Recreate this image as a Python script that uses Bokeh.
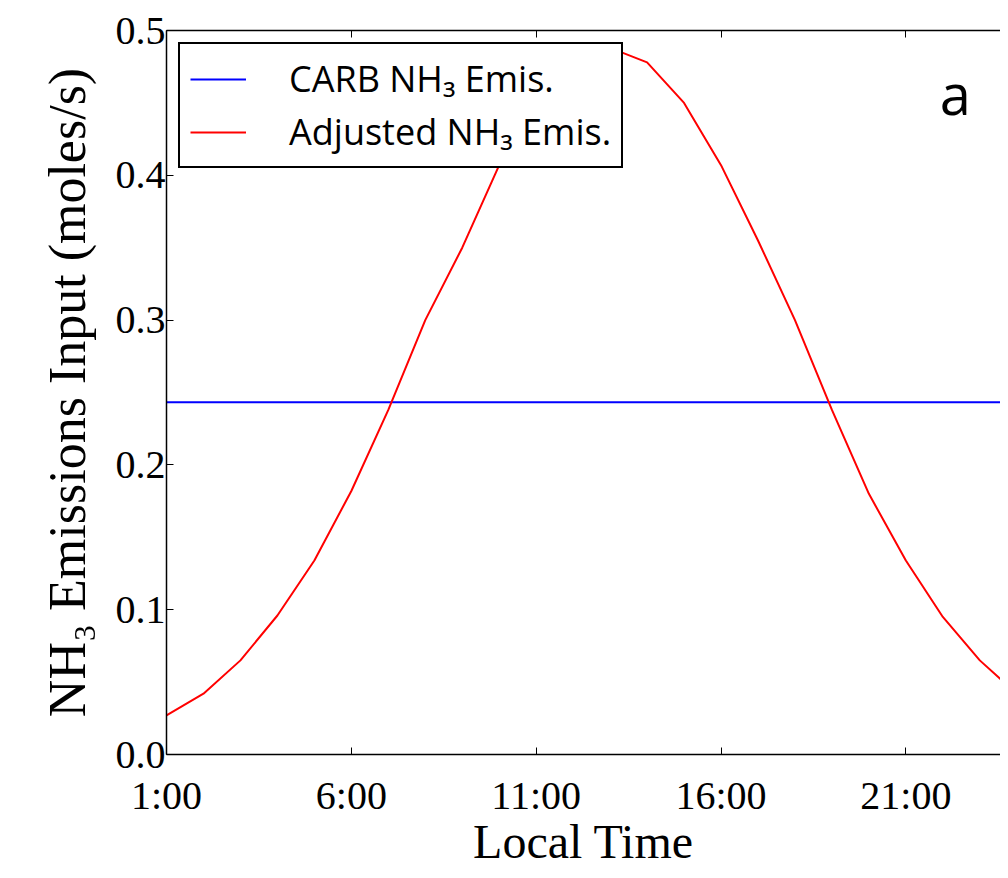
from bokeh.plotting import figure
from bokeh.models import (LinearAxis, FixedTicker, Legend, LegendItem, Label,
                          ColumnDataSource, Range1d)
from bokeh.embed import file_html
from bokeh.resources import INLINE

# ---- data ----
hours = list(range(1, 25))
carb_emis = [0.2433] * 24
adjusted_emis = [0.027, 0.042, 0.065, 0.096, 0.134, 0.182, 0.238, 0.300,
                 0.350, 0.407, 0.450, 0.478, 0.488, 0.478, 0.450, 0.407,
                 0.355, 0.300, 0.238, 0.180, 0.134, 0.095, 0.065, 0.042]
x_tick_values = [1, 6, 11, 16, 21]
x_tick_labels = ["1:00", "6:00", "11:00", "16:00", "21:00"]
y_tick_values = [0.0, 0.1, 0.2, 0.3, 0.4, 0.5]
y_tick_labels = ["0.0", "0.1", "0.2", "0.3", "0.4", "0.5"]
series_names = ["CARB NH\u2083 Emis.", "Adjusted NH\u2083 Emis."]
x_title = "Local Time"
y_title = "NH\u2083 Emissions Input (moles/s)"
panel_label = "a"

SERIF = "Liberation Serif"
SANS = "Open Sans"

src = ColumnDataSource(dict(h=hours, carb=carb_emis, adj=adjusted_emis))

p = figure(width=1000, height=870, output_backend="svg", toolbar_location=None,
           x_range=Range1d(1, 23.56), y_range=Range1d(0, 0.5),
           min_border_left=166, min_border_right=0, min_border_top=30,
           min_border_bottom=116)
p.outline_line_color = None
p.xgrid.visible = False
p.ygrid.visible = False
p.background_fill_color = "white"
p.border_fill_color = "white"

r_carb = p.line("h", "carb", source=src, line_color="#0000ff", line_width=2)
r_adj = p.line("h", "adj", source=src, line_color="#ff0000", line_width=2)

# bottom axis
xa = p.xaxis[0]
xa.ticker = FixedTicker(ticks=x_tick_values)
xa.major_label_overrides = {v: l for v, l in zip(x_tick_values, x_tick_labels)}
xa.axis_label = x_title

# top axis (ticks only, blank labels)
top = LinearAxis(ticker=FixedTicker(ticks=x_tick_values))
top.major_label_overrides = {v: "" for v in x_tick_values}
top.major_label_text_font_size = "10px"
top.major_label_standoff = 0
p.add_layout(top, "above")

ya = p.yaxis[0]
ya.ticker = FixedTicker(ticks=y_tick_values)
ya.major_label_overrides = {v: l for v, l in zip(y_tick_values, y_tick_labels)}
ya.axis_label = y_title

for ax in [xa, ya, top]:
    ax.axis_line_color = "black"
    ax.axis_line_width = 1.5
    ax.major_tick_in = 7
    ax.major_tick_out = 0
    ax.major_tick_line_color = "black"
    ax.major_tick_line_width = 1
    ax.minor_tick_line_color = None
    ax.major_label_text_font = SERIF
    ax.major_label_text_color = "black"
    ax.axis_label_text_font = SERIF
    ax.axis_label_text_color = "black"
    ax.axis_label_text_font_style = "normal"

xa.major_label_text_font_size = "40px"
xa.major_label_standoff = 18
xa.axis_label_text_font_size = "48px"
xa.axis_label_standoff = -6

ya.major_label_text_font_size = "40px"
ya.major_label_standoff = 1
ya.axis_label_text_font_size = "52px"
ya.axis_label_standoff = 17

legend = Legend(items=[LegendItem(label=series_names[0], renderers=[r_carb]),
                       LegendItem(label=series_names[1], renderers=[r_adj])],
                location="top_left", margin=12, padding=10, spacing=4,
                glyph_width=56, label_standoff=43,
                label_text_font=SANS, label_text_font_size="36px",
                label_text_color="black",
                border_line_color="black", border_line_width=2,
                border_line_alpha=1.0,
                background_fill_color="white", background_fill_alpha=1.0)
p.add_layout(legend, "center")

p.add_layout(Label(x=22.34, y=0.4565, text=panel_label, text_font=SANS,
                   text_font_size="56px", text_align="center",
                   text_baseline="middle", text_color="black"))

open("out.html", "w").write(file_html(p, INLINE))
